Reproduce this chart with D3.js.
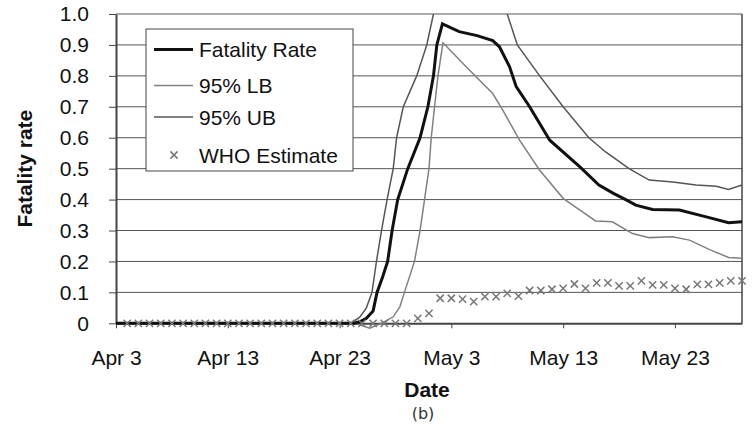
<!DOCTYPE html>
<html>
<head>
<meta charset="utf-8">
<script src="https://cdn.jsdelivr.net/npm/d3@7"></script>
<style>
  body { margin: 0; background: #fff; }
  text { font-family: "Liberation Sans", Arial, sans-serif; }
</style>
</head>
<body>
<main></main>
<script>

/*** Data (x = days after Apr 3) ***/

const xTickDays = [0, 10, 20, 30, 40, 50]
const xTickLabels = ["Apr 3", "Apr 13", "Apr 23", "May 3", "May 13", "May 23"]
const yTicks = [0, 0.1, 0.2, 0.3, 0.4, 0.5, 0.6, 0.7, 0.8, 0.9, 1.0]
const yTickLabels = ["0", "0.1", "0.2", "0.3", "0.4", "0.5", "0.6", "0.7", "0.8", "0.9", "1.0"]

const fatalityRate = [
  [0, 0], [21.3, 0], [21.8, 0.005], [22.4, 0.016], [23, 0.04], [23.35, 0.1], [23.85, 0.15],
  [24.3, 0.2], [24.7, 0.3], [25.2, 0.4], [26.1, 0.5], [27.2, 0.6], [27.9, 0.7], [28.4, 0.8],
  [28.7, 0.9], [29.2, 0.968], [30.7, 0.943], [32.3, 0.93], [33.7, 0.914], [34.3, 0.894],
  [35.2, 0.83], [35.8, 0.765], [37, 0.70], [38.8, 0.592], [41.5, 0.506], [43.2, 0.447],
  [44.5, 0.42], [45.6, 0.40], [46.5, 0.382], [48, 0.368], [50.4, 0.366], [52.8, 0.344],
  [54.8, 0.325], [56, 0.328]
]

const lowerBound = [
  [0, 0], [21.5, 0], [21.8, -0.005], [22.7, -0.016], [23.75, 0], [24.8, 0.021], [25.4, 0.054],
  [25.8, 0.1], [26.7, 0.2], [27.2, 0.3], [27.6, 0.4], [28, 0.5], [28.2, 0.6], [28.5, 0.7],
  [28.8, 0.8], [29.25, 0.907], [31.3, 0.83], [33.7, 0.743], [34.6, 0.689], [36.1, 0.592],
  [37.9, 0.495], [40, 0.404], [41.5, 0.366], [42.9, 0.331], [44.4, 0.328], [46.2, 0.29],
  [47.7, 0.277], [49.8, 0.28], [51.3, 0.269], [53.1, 0.238], [54.8, 0.213], [56, 0.21]
]

const upperBound = [
  [0, 0], [21, 0], [21.8, 0.02], [22.4, 0.05], [22.9, 0.1], [23.3, 0.2], [23.75, 0.3],
  [24.25, 0.4], [24.8, 0.5], [25.1, 0.6], [25.7, 0.7], [26.9, 0.8], [27.8, 0.9], [28.4, 1.0],
  [29.5, 1.1], [31.5, 1.13], [33.5, 1.1], [35, 1.0], [35.9, 0.9], [37.9, 0.8], [40, 0.7],
  [42.3, 0.6], [43.8, 0.554], [45.9, 0.5], [47.7, 0.463], [49.8, 0.457], [51.9, 0.447],
  [53.7, 0.443], [54.8, 0.433], [56, 0.447]
]

// WHO estimate, one value per day from Apr 4
const whoValues = [
  0, 0, 0, 0, 0, 0, 0, 0, 0, 0,
  0, 0, 0, 0, 0, 0, 0, 0, 0, 0,
  0, 0, 0, 0, 0, 0, 0.016, 0.032, 0.081, 0.081,
  0.078, 0.07, 0.086, 0.086, 0.097, 0.088, 0.106, 0.106, 0.11, 0.113,
  0.127, 0.113, 0.131, 0.131, 0.121, 0.121, 0.137, 0.124, 0.124, 0.113,
  0.11, 0.126, 0.126, 0.131, 0.137, 0.137
]

const legendItems = ["Fatality Rate", "95% LB", "95% UB", "WHO Estimate"]

/*** Layout ***/

const svgWidth = 752
const svgHeight = 429
const plotLeft = 116, plotRight = 742, plotTop = 14, plotBottom = 323.3
const fontSize = 21

let svg = d3.select("main")
  .append("svg")
  .attr("width", svgWidth)
  .attr("height", svgHeight)
  .style("display", "block")

let xScale = d3.scaleLinear().domain([0, 56]).range([plotLeft, plotRight])
let yScale = d3.scaleLinear().domain([0, 1]).range([plotBottom, plotTop])

// gridlines
svg.append("g")
  .selectAll("line")
  .data(yTicks.slice(1))
  .join("line")
  .attr("x1", plotLeft).attr("x2", plotRight)
  .attr("y1", d => yScale(d)).attr("y2", d => yScale(d))
  .attr("stroke", "#555")
  .attr("stroke-width", 1)

// right border
svg.append("line")
  .attr("x1", plotRight).attr("x2", plotRight)
  .attr("y1", plotTop).attr("y2", plotBottom)
  .attr("stroke", "#444")
  .attr("stroke-width", 1.5)

/* axes */
let yAxis = svg.append("g")
  .attr("transform", `translate(${plotLeft},0)`)
  .call(d3.axisLeft(yScale)
    .tickValues(yTicks)
    .tickFormat((d, i) => yTickLabels[i])
    .tickSize(7)
    .tickSizeOuter(0)
    .tickPadding(20))

yAxis.select("path").attr("stroke", "#444").attr("stroke-width", 2)
yAxis.selectAll("line").attr("stroke", "#444")
yAxis.selectAll("text")
  .attr("font-size", fontSize)
  .attr("fill", "#111")

let xAxis = svg.append("g")
  .attr("transform", `translate(0,${plotBottom})`)
  .call(d3.axisBottom(xScale)
    .tickValues(xTickDays)
    .tickFormat((d, i) => xTickLabels[i])
    .tickSize(5)
    .tickSizeOuter(0))

xAxis.select("path").attr("stroke", "#444").attr("stroke-width", 2)
xAxis.selectAll("line").attr("stroke", "#444")
xAxis.selectAll("text")
  .attr("font-size", fontSize)
  .attr("fill", "#111")
  .attr("dy", null)
  .attr("y", 365 - plotBottom)

/* lines */
svg.append("clipPath")
  .attr("id", "plotclip")
  .append("rect")
  .attr("x", plotLeft).attr("y", plotTop)
  .attr("width", plotRight - plotLeft).attr("height", plotBottom - plotTop + 20)

let line = d3.line()
  .x(d => xScale(d[0]))
  .y(d => yScale(d[1]))

let plot = svg.append("g").attr("clip-path", "url(#plotclip)")

plot.append("path")
  .datum(lowerBound)
  .attr("d", line)
  .attr("fill", "none")
  .attr("stroke", "#808080")
  .attr("stroke-width", 1.5)

plot.append("path")
  .datum(upperBound)
  .attr("d", line)
  .attr("fill", "none")
  .attr("stroke", "#555")
  .attr("stroke-width", 1.5)

plot.append("path")
  .datum(fatalityRate)
  .attr("d", line)
  .attr("fill", "none")
  .attr("stroke", "#111")
  .attr("stroke-width", 3)

// WHO crosses (symbolTimes is a stroked symbol)
const cross = d3.symbol().type(d3.symbolTimes).size(36)

svg.append("g")
  .selectAll("path")
  .data(whoValues)
  .join("path")
  .attr("transform", (d, i) => `translate(${xScale(i + 1)},${yScale(d)})`)
  .attr("d", cross)
  .attr("fill", "none")
  .attr("stroke", "#777")
  .attr("stroke-width", 1.5)

/* axis titles */
svg.append("text")
  .attr("transform", `translate(32, ${(plotTop + plotBottom) / 2}) rotate(-90)`)
  .attr("text-anchor", "middle")
  .attr("font-size", fontSize)
  .attr("font-weight", "bold")
  .attr("fill", "#111")
  .text("Fatality rate")

svg.append("text")
  .attr("x", 427)
  .attr("y", 397)
  .attr("text-anchor", "middle")
  .attr("font-size", fontSize)
  .attr("font-weight", "bold")
  .attr("fill", "#111")
  .text("Date")

svg.append("text")
  .attr("x", 423)
  .attr("y", 419)
  .attr("text-anchor", "middle")
  .attr("font-size", 16)
  .attr("fill", "#333")
  .style("font-family", "'DejaVu Sans', sans-serif")
  .text("(b)")

/* legend */
let legend = svg.append("g")

legend.append("rect")
  .attr("x", 146).attr("y", 29)
  .attr("width", 207).attr("height", 142)
  .attr("fill", "white")
  .attr("stroke", "#444")
  .attr("stroke-width", 1)

const legendY = [49.5, 85.5, 117, 155]
const legendStroke = ["#111", "#808080", "#555"]
const legendWidth = [3, 1.5, 1.5]

legend.selectAll(".leg-line")
  .data(legendItems.slice(0, 3))
  .join("line")
  .attr("x1", 154).attr("x2", 193)
  .attr("y1", (d, i) => legendY[i]).attr("y2", (d, i) => legendY[i])
  .attr("stroke", (d, i) => legendStroke[i])
  .attr("stroke-width", (d, i) => legendWidth[i])

legend.append("path")
  .attr("transform", `translate(174,${legendY[3]})`)
  .attr("d", cross)
  .attr("fill", "none")
  .attr("stroke", "#777")
  .attr("stroke-width", 1.5)

legend.selectAll(".leg-text")
  .data(legendItems)
  .join("text")
  .attr("x", 199)
  .attr("y", (d, i) => legendY[i] + 7.5)
  .attr("font-size", fontSize)
  .attr("fill", "#111")
  .text(d => d)

</script>
</body>
</html>
